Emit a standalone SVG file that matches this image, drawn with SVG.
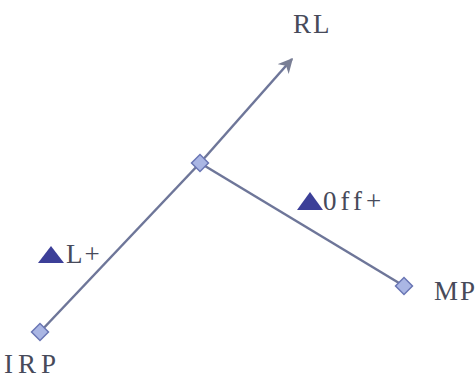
<svg xmlns="http://www.w3.org/2000/svg" width="476" height="378" viewBox="0 0 476 378">
<style>
.ln{stroke:#6e7699;stroke-width:2.5;fill:none}
.nd{fill:#aab6e4;stroke:#6a76b4;stroke-width:1.5}
.tx{font-family:"Liberation Serif",serif;font-size:27px;fill:#474a5a;letter-spacing:2px}
.tri{fill:#3c3f98}
</style>
<defs>
<marker id="ah" viewBox="0 0 10 10" refX="9" refY="5" markerWidth="6" markerHeight="6" orient="auto" markerUnits="strokeWidth">
<path d="M0,0 L10,5 L0,10 L3,5 Z" fill="#7a7f95"/>
</marker>
</defs>
<g id="connectors">
<line class="ln" x1="40" y1="332" x2="200" y2="163"/>
<line class="ln" x1="200" y1="163" x2="292" y2="59" marker-end="url(#ah)"/>
<line class="ln" x1="200" y1="163" x2="404" y2="286"/>
</g>
<g id="IRP">
<rect class="nd" x="34" y="326" width="12" height="12" transform="rotate(45 40 332)"/>
<text class="tx" x="4" y="373" style="letter-spacing:5px">IRP</text>
</g>
<g id="center">
<rect class="nd" x="194" y="157" width="12" height="12" transform="rotate(45 200 163)"/>
</g>
<g id="MP">
<rect class="nd" x="398" y="280" width="12" height="12" transform="rotate(45 404 286)"/>
<text class="tx" x="434" y="300">MP</text>
</g>
<g id="RL">
<text class="tx" x="293" y="33">RL</text>
</g>
<g id="labelOff">
<polygon class="tri" points="297,210 310,192 323,210"/>
<text class="tx" x="323" y="210" style="letter-spacing:4px">0ff+</text>
</g>
<g id="labelL">
<polygon class="tri" points="38,263 51,246 64,263"/>
<text class="tx" x="66" y="263">L+</text>
</g>
</svg>
